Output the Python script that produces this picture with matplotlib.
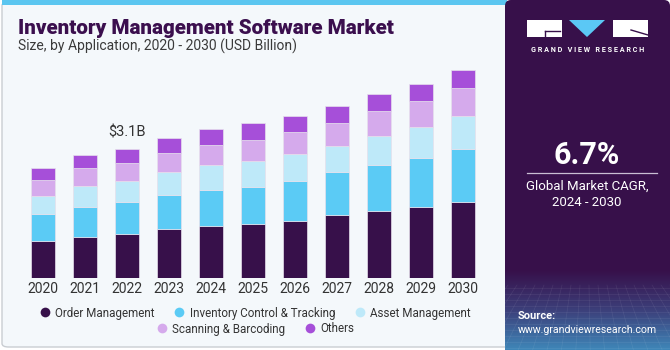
import numpy as np
import matplotlib.pyplot as plt
from matplotlib.patches import FancyBboxPatch, Rectangle, Polygon
from matplotlib.lines import Line2D
from matplotlib.colors import LinearSegmentedColormap

plt.rcParams["font.family"] = ["Roboto", "DejaVu Sans"]

years = ["2020", "2021", "2022", "2023", "2024", "2025", "2026", "2027", "2028", "2029", "2030"]
segments = ["Order Management", "Inventory Control & Tracking", "Asset Management",
            "Scanning & Barcoding", "Others"]
order_mgmt = [0.88, 0.99, 1.07, 1.18, 1.25, 1.30, 1.37, 1.51, 1.61, 1.71, 1.84]
inventory_ctrl = [0.66, 0.73, 0.75, 0.82, 0.86, 0.89, 0.96, 1.04, 1.12, 1.17, 1.27]
asset_mgmt = [0.43, 0.50, 0.51, 0.55, 0.60, 0.63, 0.66, 0.64, 0.70, 0.75, 0.80]
scanning = [0.39, 0.43, 0.44, 0.46, 0.49, 0.51, 0.52, 0.55, 0.60, 0.63, 0.67]
others = [0.29, 0.32, 0.34, 0.35, 0.38, 0.40, 0.40, 0.40, 0.40, 0.42, 0.44]
colors = ["#37104A", "#5BCBF5", "#BEE9F9", "#D5AAEC", "#A64FD9"]
callout_year = "2022"
callout_text = "$3.1B"
cagr = "6.7%"

W, H = 670, 350
BG = "#F4F8FB"
PURPLE = "#37104A"


def fx(x):
    return x / W


def fy(y):
    return 1 - y / H


fig = plt.figure(figsize=(6.7, 3.5), dpi=100)
fig.patch.set_facecolor("white")

# left panel (behind the axes)
fig.patches.append(FancyBboxPatch((fx(2), fy(347)), fx(515), 345 / H,
                                  boxstyle="round,pad=0,rounding_size=0.01",
                                  transform=fig.transFigure, facecolor=BG,
                                  edgecolor="#C9CDD2", linewidth=1.0, zorder=-3))
fig.patches.append(Rectangle((fx(2), fy(5)), fx(505), 5 / H, transform=fig.transFigure,
                             facecolor="#5BC6F0", edgecolor="none", zorder=-2))

# right panel
side = fig.add_axes([fx(505), 0, fx(165), 1])
side.set_xlim(0, 165)
side.set_ylim(350, 0)
side.axis("off")
side.add_patch(FancyBboxPatch((0, 0), 165, 350, boxstyle="round,pad=0,rounding_size=6",
                              facecolor=PURPLE, edgecolor="none", zorder=0))
grad = np.linspace(0, 1, 100)[:, None]
cmap = LinearSegmentedColormap.from_list("g", [PURPLE, "#3C3F7A", "#3F86B8"])
side.imshow(grad, extent=(0, 165, 350, 270), cmap=cmap, aspect="auto", zorder=1)
for gx in np.arange(-60, 230, 9):
    side.plot([gx, gx + (gx - 82) * 0.6], [285, 350], color="white", alpha=0.08, lw=0.5, zorder=2)
for gy in np.arange(288, 350, 6):
    side.plot([0, 165], [gy, gy], color="white", alpha=0.08, lw=0.5, zorder=2)
side.set_xlim(0, 165)
side.set_ylim(350, 0)

# logo
side.add_patch(Rectangle((22, 20), 35, 17, facecolor="white", zorder=3))
side.plot([40, 55], [31, 31], color=PURPLE, lw=1, zorder=4)
side.plot([40, 40], [31, 37], color=PURPLE, lw=1, zorder=4)
side.add_patch(Polygon([(64, 20), (100, 20), (82, 37)], facecolor="#5BC8F5", zorder=3))
side.add_patch(Rectangle((108, 20), 35, 17, facecolor="white", zorder=3))
side.plot([126, 143], [30, 35], color=PURPLE, lw=1, zorder=4)
side.text(82.5, 50, "G R A N D   V I E W   R E S E A R C H", color="white", fontsize=5.2,
          fontweight="bold", ha="center", va="center", zorder=5)

side.text(82, 155, cagr, color="white", fontsize=22, fontweight="bold", ha="center",
          va="center", zorder=5)
side.plot([22, 152], [173, 173], color="#C9BFD3", lw=0.9, zorder=5)
side.text(82, 186, "Global Market CAGR,", color="white", fontsize=9.5, ha="center",
          va="center", zorder=5)
side.text(82, 202, "2024 - 2030", color="white", fontsize=9.5, ha="center",
          va="center", zorder=5)
side.text(13, 316, "Source:", color="white", fontsize=8, fontweight="bold", ha="left",
          va="center", zorder=5)
side.text(13, 330, "www.grandviewresearch.com", color="white", fontsize=7.6, ha="left",
          va="center", zorder=5)

# title
fig.text(fx(18), fy(28), "Inventory Management Software Market", color="#3B0F4E",
         fontsize=14.9, fontweight="black", ha="left", va="center")
fig.text(fx(18), fy(46), "Size, by Application, 2020 - 2030 (USD Billion)", color="#3A3A3A",
         fontsize=10, ha="left", va="center")

# bars
ax = fig.add_axes([fx(20), fy(278), fx(470), (278 - 60) / H])
ax.set_facecolor("none")
x = np.arange(len(years))
bottom = np.zeros(len(years))
for vals, col, name in zip([order_mgmt, inventory_ctrl, asset_mgmt, scanning, others], colors, segments):
    ax.bar(x, vals, width=0.575, bottom=bottom, color=col, edgecolor="#E6E0EC",
           linewidth=0.5, label=name, zorder=2)
    bottom += np.array(vals)
ax.set_xlim(-0.548, 10.643)
ax.set_ylim(0, 5.25)
ax.set_xticks(x)
ax.set_xticklabels(years)
ax.tick_params(axis="x", length=0, pad=3, labelsize=10, labelcolor="#333333")
ax.set_yticks([])
for s in ax.spines.values():
    s.set_visible(False)

ci = years.index(callout_year)
ax.annotate(callout_text, (ci, bottom[ci]), xytext=(0, 7), textcoords="offset points",
            ha="center", va="bottom", fontsize=10.5, color="#333333")

# legend
handles = [Line2D([0], [0], marker="o", linestyle="None", markersize=7,
                  markerfacecolor=c, markeredgecolor="none", label=n)
           for c, n in zip(colors, segments)]
legend_kw = dict(loc="center", frameon=False, fontsize=8.4, handlelength=1.0,
                 handletextpad=0.4, columnspacing=1.6, labelcolor="#333333")
fig.legend(handles=handles[:3], bbox_to_anchor=(fx(255), fy(313)), ncol=3, **legend_kw)
fig.legend(handles=handles[3:], bbox_to_anchor=(fx(255), fy(329)), ncol=2, **legend_kw)

fig.savefig("out.png", dpi=100, facecolor=fig.get_facecolor())
